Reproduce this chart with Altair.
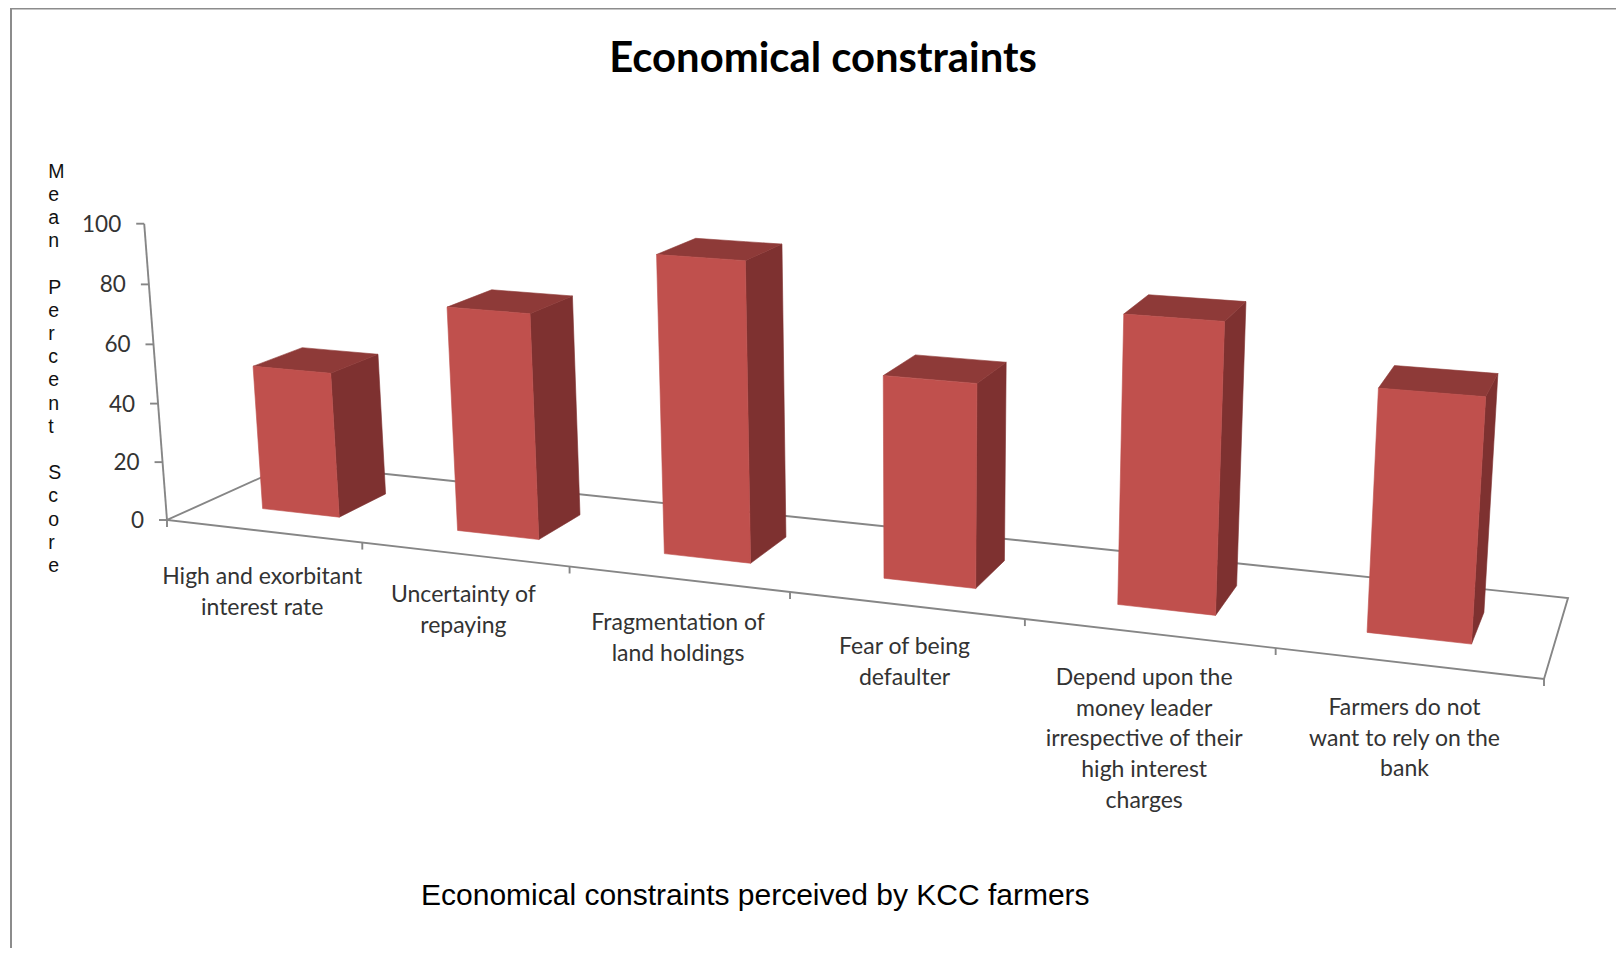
import altair as alt
import numpy as np
import pandas as pd

# ---- chart values -------------------------------------------------------
labels = [
    ["High and exorbitant", "interest rate"],
    ["Uncertainty of", "repaying"],
    ["Fragmentation of", "land holdings"],
    ["Fear of being", "defaulter"],
    ["Depend upon the", "money leader", "irrespective of their", "high interest", "charges"],
    ["Farmers do not", "want to rely on the", "bank"],
]
scores = [49.5, 75, 97, 64.5, 89, 73]
y_ticks = [0, 20, 40, 60, 80, 100]
title = "Economical constraints"
caption = "Economical constraints perceived by KCC farmers"
y_title = "Mean Percent Score"

# ---- camera of the tilted 3D plot ---------------------------------------
floor_uv = [(0, 0), (6, 0), (6, 1), (0, 1)]
floor_px = [(167, 520), (1544, 679), (1568, 598), (291, 464)]
vanish = np.array([918.0, 10285.0, 1.0])
axis_top_y = 223.7
BAR_X = (0.30, 0.70)
BAR_Z = (0.30, 0.70)
LABEL_DX = [-1, -1, 0, -1, -4, -3]
LABEL_DY = [46, 41, 44, 42, 45, 45]

A = []
for (u, v), (x, y) in zip(floor_uv, floor_px):
    A.append([u, v, 1, 0, 0, 0, -x * u, -x * v, -x])
    A.append([0, 0, 0, u, v, 1, -y * u, -y * v, -y])
H = np.linalg.svd(np.array(A))[2][-1].reshape(3, 3)
h0 = H @ np.array([0, 0, 1.0])
k = (h0[1] - axis_top_y * h0[2]) / (axis_top_y - vanish[1]) / 100.0


def project(X, V, Z):
    p = H @ np.array([X, Z, 1.0]) + k * V * vanish
    return float(p[0] / p[2]), float(p[1] / p[2])


def face_rows(pts, fid, color):
    """A convex polygon as area samples (x, y, y2) at each vertex x."""
    rows = []
    xs = sorted(set(round(p[0], 3) for p in pts))
    n = len(pts)
    for x in xs:
        ys = []
        for i in range(n):
            (x0, y0), (x1, y1) = pts[i], pts[(i + 1) % n]
            lo, hi = min(x0, x1), max(x0, x1)
            if lo - 1e-2 <= x <= hi + 1e-2:
                if abs(x1 - x0) < 1e-6:
                    ys += [y0, y1]
                else:
                    ys.append(y0 + (y1 - y0) * (x - x0) / (x1 - x0))
        rows.append({"x": x, "y": min(ys), "y2": max(ys), "face": fid, "color": color})
    return rows


FRONT, SIDE, TOP = "#C0504D", "#7E3130", "#8E3A38"
faces = []
for i, s in enumerate(scores):
    x0, x1 = i + BAR_X[0], i + BAR_X[1]
    z0, z1 = BAR_Z
    faces += face_rows([project(x1, 0, z0), project(x1, 0, z1), project(x1, s, z1), project(x1, s, z0)], f"{i}s", SIDE)
    faces += face_rows([project(x0, s, z0), project(x1, s, z0), project(x1, s, z1), project(x0, s, z1)], f"{i}t", TOP)
    faces += face_rows([project(x0, 0, z0), project(x1, 0, z0), project(x1, s, z0), project(x0, s, z0)], f"{i}f", FRONT)
faces = pd.DataFrame(faces)

lines = []


def add_line(pid, pts):
    for j, (x, y) in enumerate(pts):
        lines.append({"x": x, "y": y, "id": pid, "o": j})


add_line("floor", [project(0, 0, 1), project(0, 0, 0), project(6, 0, 0), project(6, 0, 1), project(0, 0, 1)])
add_line("yaxis", [project(0, 0, 0), project(0, 100, 0)])
for t in y_ticks:
    px, py = project(0, t, 0)
    add_line(f"yt{t}", [(px - 8, py), (px, py)])
for i in range(7):
    px, py = project(i, 0, 0)
    add_line(f"xt{i}", [(px, py), (px, py + 7)])
lines = pd.DataFrame(lines)

frame = pd.DataFrame([
    {"x": 11, "y": 948, "id": "l", "o": 0},
    {"x": 11, "y": 8.6, "id": "l", "o": 1},
    {"x": 1616, "y": 8.6, "id": "l", "o": 2},
])

ytext = []
for t in y_ticks:
    px, py = project(0, t, 0)
    ytext.append({"x": px - 23, "y": py + 1, "t": str(t)})
ytext = pd.DataFrame(ytext)

xtext = []
for i, ls in enumerate(labels):
    px, py = project(i + 0.5, 0, 0)
    for j, l in enumerate(ls):
        xtext.append({"x": px + LABEL_DX[i], "y": py + LABEL_DY[i] + j * 30.6, "t": l})
xtext = pd.DataFrame(xtext)

slots = []
j = 0
for c in y_title:
    if c != " ":
        slots.append({"x": 48.2, "y": 171.5 + j * 23.2, "t": c})
    j += 1
ycap = pd.DataFrame(slots)

X = alt.X("x:Q", scale=alt.Scale(domain=[8, 1616], range=[0, 1608], nice=False, zero=False), axis=None)
Y = alt.Y("y:Q", scale=alt.Scale(domain=[8, 948], range=[0, 940], nice=False, zero=False), axis=None)

frame_l = alt.Chart(frame).mark_line(color="#8C8C8C", strokeWidth=2).encode(X, Y, detail="id:N", order="o:Q")
grid_l = alt.Chart(lines).mark_line(color="#868686", strokeWidth=1.9).encode(X, Y, detail="id:N", order="o:Q")
bars = alt.Chart(faces).mark_area(strokeWidth=0.6, interpolate="linear").encode(
    X, Y, y2="y2:Q", detail="face:N",
    fill=alt.Fill("color:N", scale=None),
    stroke=alt.Stroke("color:N", scale=None),
)
y_lab = alt.Chart(ytext).mark_text(font="Lato", fontSize=22.5, color="#333333", align="right", baseline="middle").encode(X, Y, text="t:N")
x_lab = alt.Chart(xtext).mark_text(font="Lato", fontSize=23, color="#333333", align="center", baseline="middle").encode(X, Y, text="t:N")
y_cap = alt.Chart(ycap).mark_text(font="Liberation Sans", fontSize=19.5, color="#111111", align="left", baseline="middle").encode(X, Y, text="t:N")
ttl = alt.Chart(pd.DataFrame([{"x": 823, "y": 59, "t": title}])).mark_text(
    font="Lato", fontWeight="bold", fontSize=41.8, color="#000000", align="center", baseline="middle").encode(X, Y, text="t:N")
cap = alt.Chart(pd.DataFrame([{"x": 421, "y": 896, "t": caption}])).mark_text(
    font="Liberation Sans", fontSize=30, color="#000000", align="left", baseline="middle").encode(X, Y, text="t:N")

chart = alt.layer(frame_l, grid_l, bars, y_lab, x_lab, y_cap, ttl, cap).properties(
    width=1608, height=940, padding=0, autosize=alt.AutoSizeParams(type="none"), background="#FFFFFF"
).configure_view(stroke=None)

chart.save("out.html", embed_options={"renderer": "svg", "actions": False})
